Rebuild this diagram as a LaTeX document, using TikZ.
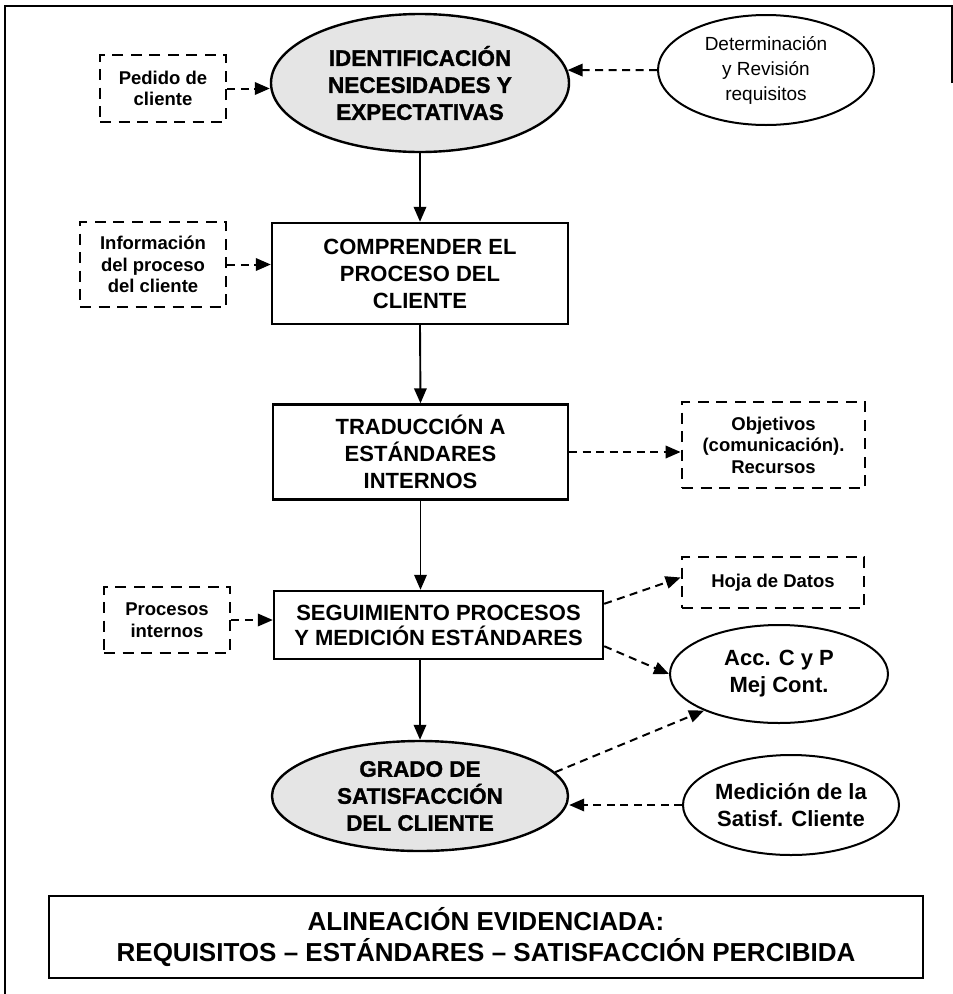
\documentclass[tikz,border=0pt]{standalone}
\usepackage{fontspec}
\setmainfont{Liberation Sans}
\newfontfamily\heavyfont[FakeBold=1.3]{Liberation Sans Bold}
\usetikzlibrary{arrows.meta,calc,shapes.geometric}

\begin{document}
\begin{tikzpicture}[x=1pt,y=-1pt,
  tipstyle/.style={-{Triangle[length=15pt,width=12.5pt]}},
  solidlink/.style={tipstyle, line width=1.9pt},
  dashlink/.style={tipstyle, line width=2pt, dash pattern=on 8pt off 5.5pt},
  mainbox/.style={draw, line width=2.4pt, align=center, inner sep=0pt,
    font=\bfseries\fontsize{22}{27}\selectfont},
  dbox/.style={draw, line width=2.8pt, dash pattern=on 11pt off 7.5pt, align=center,
    inner sep=0pt, font=\bfseries\fontsize{18.5}{21.5}\selectfont},
  oval/.style={draw, ellipse, line width=2pt, align=center, inner sep=0pt},
  shadedoval/.style={oval, line width=2.4pt, fill=gray!20, font=\heavyfont\fontsize{22.5}{27}\selectfont},
]
\useasboundingbox (0,0) rectangle (953,994);

% outer frame
\draw[line width=1.3pt] (952,83) -- (952,6) -- (5,6) -- (5,994);

% main flow
\node[shadedoval, minimum width=298, minimum height=138] (e1) at (420,83)
  {IDENTIFICACIÓN\\NECESIDADES Y\\EXPECTATIVAS};
\node[mainbox, minimum width=296, minimum height=101] (box2) at (420,273.5)
  {COMPRENDER EL\\PROCESO DEL\\CLIENTE};
\node[mainbox, minimum width=295, minimum height=95] (box3) at (420.5,452)
  {TRADUCCIÓN A\\ESTÁNDARES\\INTERNOS};
\node[mainbox, minimum width=329, minimum height=68, font=\bfseries\fontsize{22}{25}\selectfont] (seg) at (438.5,625)
  {SEGUIMIENTO PROCESOS\\Y MEDICIÓN ESTÁNDARES};
\node[shadedoval, minimum width=296, minimum height=110] (grado) at (420,796)
  {GRADO DE\\SATISFACCIÓN\\DEL CLIENTE};

% side inputs and outputs
\node[dbox, minimum width=126, minimum height=67] (pedido) at (163,88.5)
  {Pedido de\\cliente};
\node[oval, minimum width=216, minimum height=110, font=\fontsize{19}{25}\selectfont] (det) at (766,70)
  {Determinación\\y Revisión\\requisitos};
\node[dbox, minimum width=146, minimum height=85] (info) at (153,264.5)
  {Información\\del proceso\\del cliente};
\node[dbox, minimum width=183, minimum height=86] (obj) at (773.5,445)
  {Objetivos\\(comunicación).\\Recursos};
\node[dbox, minimum width=126, minimum height=66] (proc) at (167,620)
  {Procesos\\internos};
\node[dbox, minimum width=182, minimum height=51] (hoja) at (773,582.5)
  {Hoja de Datos};
\node[oval, minimum width=218, minimum height=98, font=\bfseries\fontsize{22}{27}\selectfont] (acc) at (779,674)
  {Acc. C y P\\Mej Cont.};
\node[oval, minimum width=216, minimum height=100, font=\bfseries\fontsize{22}{27}\selectfont] (med) at (791,805)
  {Medición de la\\Satisf. Cliente};

% summary box
\node[mainbox, minimum width=874, minimum height=82, font=\bfseries\fontsize{26}{31}\selectfont] (summary) at (486,937)
  {ALINEACIÓN EVIDENCIADA:\\REQUISITOS – ESTÁNDARES – SATISFACCIÓN PERCIBIDA};

% connectors
\draw[dashlink] (pedido.east) -- (pedido.east -| e1.west);
\draw[dashlink] (det.west) -- (e1.5.5);
\draw[solidlink] (e1.south) -- (box2.north);
\draw[dashlink] (info.east) -- (info.east -| box2.west);
\draw[solidlink] (box2.south) -- (box3.north);
\draw[dashlink] (box3.east) -- (box3.east -| obj.west);
\draw[solidlink] (box3.south) -- (box3.south |- seg.north);
\draw[dashlink] (proc.east) -- (proc.east -| seg.west);
\draw[dashlink] ($(seg.north east)+(0,14)$) -- ($(hoja.west)+(0,-5)$);
\draw[dashlink] ($(seg.south east)+(0,-14)$) -- (acc.west);
\draw[solidlink] (grado.north |- seg.south) -- (grado.north);
\draw[dashlink] (grado.10) -- (acc.206);
\draw[dashlink] (med.west) -- (med.west -| grado.east);
\end{tikzpicture}
\end{document}
